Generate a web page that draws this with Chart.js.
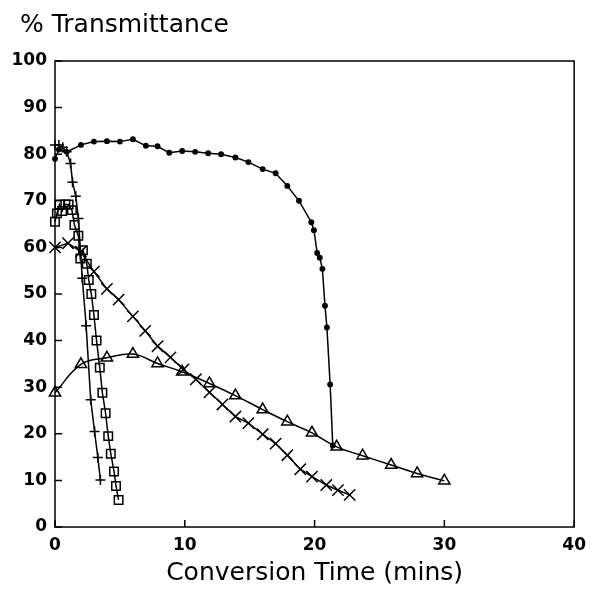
<!DOCTYPE html>
<html>
<head>
<meta charset="utf-8">
<script src="https://cdn.jsdelivr.net/npm/chart.js@4.4.1/dist/chart.umd.min.js"></script>
<style>
  body { margin: 0; background: #fff; }
  #wrap { width: 594px; height: 602px; }
</style>
</head>
<body>
<div id="wrap"><canvas id="chart"></canvas></div>
<script>
// values (x = minutes, y = % transmittance)
const dotX = [0, 0.3, 0.9, 2, 3, 4, 5, 6, 7, 7.9, 8.8, 9.8, 10.8, 11.8, 12.8, 13.9, 14.9, 16, 17, 17.9, 18.8, 19.75, 19.95, 20.2, 20.4, 20.6, 20.8, 20.95, 21.2, 21.4];
const dotY = [79, 81, 80.5, 82, 82.7, 82.8, 82.7, 83.2, 81.8, 81.7, 80.3, 80.7, 80.5, 80.2, 80, 79.3, 78.3, 76.8, 75.9, 73.2, 70, 65.4, 63.7, 58.8, 57.8, 55.4, 47.5, 42.8, 30.6, 17.5];

const plusX = [0, 0.3, 0.6, 0.9, 1.2, 1.35, 1.6, 1.8, 2.1, 2.4, 2.75, 3.05, 3.3, 3.5];
const plusY = [82, 82, 81.5, 80.5, 78, 74, 71, 66.2, 53.4, 43.2, 27.3, 20.5, 14.9, 10.1];

const squareX = [0, 0.15, 0.35, 0.55, 0.8, 1.05, 1.3, 1.5, 1.8, 1.95, 2.15, 2.45, 2.6, 2.8, 3.0, 3.2, 3.45, 3.65, 3.9, 4.1, 4.3, 4.55, 4.7, 4.9];
const squareY = [65.5, 67.3, 69.2, 67.8, 69.2, 69.2, 68, 64.8, 62.5, 57.6, 59.4, 56.5, 53, 50, 45.5, 40, 34.2, 28.8, 24.4, 19.5, 15.7, 11.9, 8.8, 5.8];

const crossX = [0, 1, 2, 3, 4, 4.9, 6, 6.95, 7.9, 8.9, 9.9, 10.85, 11.9, 12.9, 13.9, 14.9, 16, 17, 17.9, 18.9, 19.8, 20.9, 21.8, 22.7];
const crossY = [60, 60.9, 59.1, 54.8, 51.1, 48.8, 45.2, 42.1, 38.8, 36.4, 33.8, 31.7, 28.9, 26.3, 23.7, 22.3, 19.9, 17.9, 15.4, 12.4, 10.8, 9, 7.9, 6.9];

const triX = [0, 2, 4, 6, 7.9, 9.8, 11.9, 13.9, 16, 17.9, 19.8, 21.7, 23.7, 25.9, 27.9, 30];
const triY = [28.8, 34.9, 36.3, 37.1, 35.1, 33.3, 30.8, 28.2, 25.2, 22.6, 20.2, 17.2, 15.3, 13.3, 11.5, 9.9];

const xTicks = [0, 10, 20, 30, 40];
const yTicks = [0, 10, 20, 30, 40, 50, 60, 70, 80, 90, 100];

const yTitle = '% Transmittance';
const xTitle = 'Conversion Time (mins)';

function pts(xs, ys) {
    return xs.map((x, i) => ({ x: x, y: ys[i] }));
}

function series(xs, ys, style, radius, fill, tension) {
    return {
        data: pts(xs, ys),
        showLine: true,
        borderColor: '#000',
        borderWidth: 1.5,
        backgroundColor: fill ? '#000' : '#fff',
        pointStyle: style,
        pointRadius: radius,
        pointBorderWidth: 1.5,
        pointBorderColor: '#000',
        pointBackgroundColor: fill ? '#000' : 'rgba(255,255,255,0)',
        tension: tension,
        clip: false
    };
}

// box round the plot, short inward tick marks, and the y title top-left
const frame = {
    id: 'frame',
    beforeDatasetsDraw(chart) {
        const { ctx, chartArea: a, scales } = chart;
        ctx.save();
        ctx.strokeStyle = '#000';
        ctx.lineWidth = 1.5;
        ctx.strokeRect(a.left, a.top, a.right - a.left, a.bottom - a.top);
        ctx.beginPath();
        yTicks.forEach(v => {
            const y = scales.y.getPixelForValue(v);
            ctx.moveTo(a.left, y);
            ctx.lineTo(a.left + 7, y);
        });
        xTicks.forEach(v => {
            const x = scales.x.getPixelForValue(v);
            ctx.moveTo(x, a.bottom);
            ctx.lineTo(x, a.bottom - 7);
        });
        ctx.stroke();

        ctx.fillStyle = '#000';
        ctx.font = '25px "DejaVu Sans"';
        ctx.textAlign = 'left';
        ctx.textBaseline = 'middle';
        ctx.fillText(yTitle, 20, 25);
        ctx.restore();
    }
};

const tickFont = { family: 'DejaVu Sans', size: 17, weight: 'bold' };

new Chart(document.getElementById('chart'), {
    type: 'scatter',
    data: {
        datasets: [
            series(triX, triY, 'triangle', 6.5, false, 0.4),
            series(crossX, crossY, 'crossRot', 8, false, 0),
            series(squareX, squareY, 'rect', 6, false, 0),
            series(plusX, plusY, 'cross', 5, false, 0),
            series(dotX, dotY, 'circle', 2.2, true, 0)
        ]
    },
    options: {
        responsive: true,
        maintainAspectRatio: false,
        animation: false,
        layout: { padding: { left: 0, right: 14, top: 61, bottom: 0 } },
        plugins: {
            legend: { display: false },
            tooltip: { enabled: false }
        },
        scales: {
            x: {
                type: 'linear',
                min: 0,
                max: 40,
                afterBuildTicks: s => { s.ticks = xTicks.map(v => ({ value: v })); },
                afterFit: s => { s.height = 75; },
                grid: { drawOnChartArea: false, drawTicks: false },
                border: { display: false },
                ticks: { color: '#000', font: tickFont, padding: 8, maxRotation: 0 },
                title: {
                    display: true,
                    text: xTitle,
                    color: '#000',
                    font: { family: 'DejaVu Sans', size: 25, weight: 'normal', lineHeight: 1.2 },
                    padding: { top: 0, bottom: 14 }
                }
            },
            y: {
                type: 'linear',
                min: 0,
                max: 100,
                afterBuildTicks: s => { s.ticks = yTicks.map(v => ({ value: v })); },
                afterFit: s => { s.width = 55; },
                grid: { drawOnChartArea: false, drawTicks: false },
                border: { display: false },
                ticks: { color: '#000', font: tickFont, padding: 8 }
            }
        }
    },
    plugins: [frame]
});
</script>
</body>
</html>
